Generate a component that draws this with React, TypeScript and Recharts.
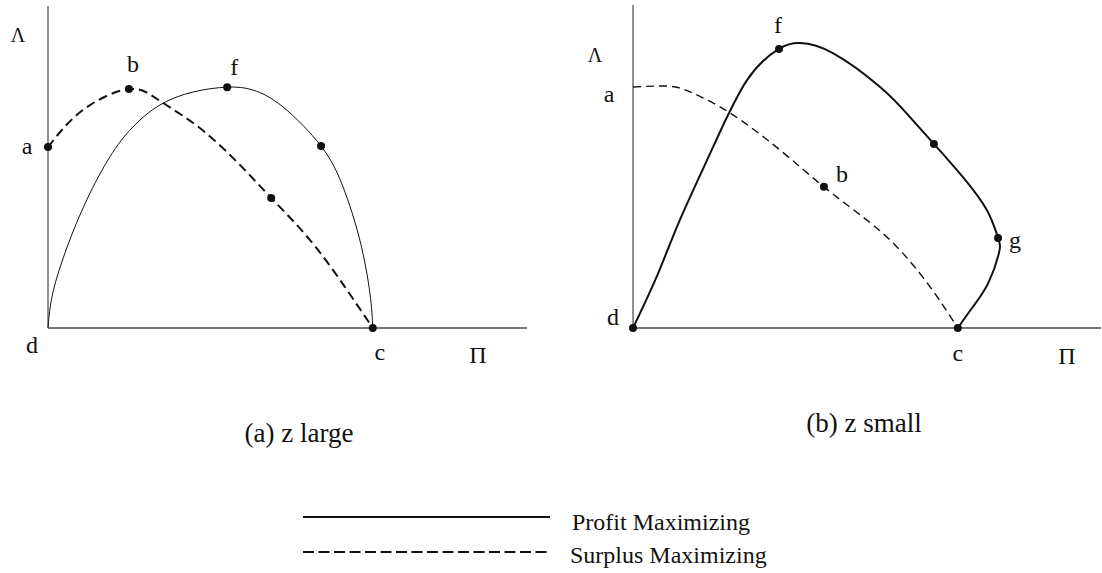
import { ComposedChart, Line, Scatter, XAxis, YAxis } from "recharts";

// curves in abstract units (axis length 10)
const seriesNames = ["Profit Maximizing", "Surplus Maximizing"];
const captions = ["(a) z large", "(b) z small"];
const axisNames = { y: "Λ", x: "Π" };

const largeProfit = [
  { x: 0, y: 0 },
  { x: 0.1, y: 1.09 },
  { x: 0.4, y: 2.52 },
  { x: 0.81, y: 3.98 },
  { x: 1.29, y: 5.31 },
  { x: 1.77, y: 6.24 },
  { x: 2.34, y: 6.93 },
  { x: 3.03, y: 7.33 },
  { x: 3.74, y: 7.48 },
  { x: 4.28, y: 7.39 },
  { x: 4.91, y: 6.86 },
  { x: 5.7, y: 5.65 },
  { x: 6.16, y: 4.38 },
  { x: 6.51, y: 2.73 },
  { x: 6.72, y: 1.09 },
  { x: 6.78, y: 0 },
];

const largeSurplus = [
  { x: 0, y: 5.62 },
  { x: 0.73, y: 6.77 },
  { x: 1.69, y: 7.42 },
  { x: 2.34, y: 7.05 },
  { x: 3.17, y: 6.21 },
  { x: 4.01, y: 5.06 },
  { x: 4.66, y: 4.04 },
  { x: 5.47, y: 2.73 },
  { x: 6.2, y: 1.27 },
  { x: 6.78, y: 0 },
];

const largeMarks = [
  { x: 0, y: 5.62, label: "a", dot: true },
  { x: 1.69, y: 7.42, label: "b", dot: true },
  { x: 3.74, y: 7.48, label: "f", dot: true },
  { x: 5.7, y: 5.65, label: "", dot: true },
  { x: 4.66, y: 4.04, label: "", dot: true },
  { x: 6.78, y: 0, label: "c", dot: true },
  { x: 0, y: 0, label: "d", dot: false },
];

const smallProfit = [
  { x: 0, y: 0 },
  { x: 0.53, y: 1.67 },
  { x: 1.0, y: 3.34 },
  { x: 1.71, y: 5.6 },
  { x: 2.44, y: 7.68 },
  { x: 3.12, y: 8.64 },
  { x: 3.57, y: 8.82 },
  { x: 4.27, y: 8.51 },
  { x: 5.28, y: 7.46 },
  { x: 5.88, y: 6.59 },
  { x: 6.43, y: 5.7 },
  { x: 7.05, y: 4.67 },
  { x: 7.56, y: 3.65 },
  { x: 7.8, y: 2.79 },
  { x: 7.82, y: 2.32 },
  { x: 7.59, y: 1.39 },
  { x: 7.26, y: 0.65 },
  { x: 6.94, y: 0 },
];

const smallSurplus = [
  { x: 0, y: 7.46 },
  { x: 0.73, y: 7.49 },
  { x: 1.22, y: 7.31 },
  { x: 2.07, y: 6.66 },
  { x: 3.14, y: 5.51 },
  { x: 4.08, y: 4.37 },
  { x: 4.91, y: 3.44 },
  { x: 5.64, y: 2.51 },
  { x: 6.35, y: 1.27 },
  { x: 6.94, y: 0 },
];

const smallMarks = [
  { x: 0, y: 0, label: "d", dot: true },
  { x: 3.12, y: 8.64, label: "f", dot: true },
  { x: 6.43, y: 5.7, label: "", dot: true },
  { x: 7.8, y: 2.79, label: "g", dot: true },
  { x: 4.08, y: 4.37, label: "b", dot: true },
  { x: 6.94, y: 0, label: "c", dot: true },
  { x: 0, y: 7.46, label: "a", dot: false },
];

const FONT = "'Liberation Serif', 'Times New Roman', serif";

const labelOffsets: Record<string, Record<string, [number, number]>> = {
  large: { a: [-21, 7], b: [4, -17], f: [7, -12], d: [-16, 25], c: [7, 32] },
  small: { f: [-1, -16], a: [-24, 15], b: [18, -5], g: [17, 10], d: [-20, -3], c: [0, 33] },
};

function markShape(panel: string) {
  return (props: any) => {
    const { cx, cy, payload } = props;
    const off = labelOffsets[panel][payload.label];
    return (
      <g>
        {payload.dot && <circle cx={cx} cy={cy} r={4} fill="#111" />}
        {off && (
          <text x={cx + off[0]} y={cy + off[1]} textAnchor="middle" fontFamily={FONT} fontSize={24} fill="#111">
            {payload.label}
          </text>
        )}
      </g>
    );
  };
}

interface PanelProps {
  panel: string;
  profit: { x: number; y: number }[];
  surplus: { x: number; y: number }[];
  marks: { x: number; y: number; label: string; dot: boolean }[];
  width: number;
  margin: { top: number; right: number; bottom: number; left: number };
  yTitle: [number, number];
  xTitle: [number, number];
  profitWidth: number;
  surplusWidth: number;
  surplusDash: string;
}

function Panel(p: PanelProps) {
  return (
    <ComposedChart width={p.width} height={400} margin={p.margin}>
      <XAxis
        type="number"
        dataKey="x"
        domain={[0, 10]}
        height={30}
        tick={false}
        tickLine={false}
        axisLine={{ stroke: "#777", strokeWidth: 2 }}
        label={{
          content: (lp: any) => (
            <text x={lp.viewBox.x + p.xTitle[0]} y={lp.viewBox.y + p.xTitle[1]} textAnchor="middle" fontFamily={FONT} fontSize={24} fill="#111">
              {axisNames.x}
            </text>
          ),
        }}
      />
      <YAxis
        type="number"
        dataKey="y"
        domain={[0, 10]}
        width={30}
        tick={false}
        tickLine={false}
        axisLine={{ stroke: "#222", strokeWidth: 1 }}
        label={{
          content: (lp: any) => (
            <text x={lp.viewBox.x + p.yTitle[0]} y={lp.viewBox.y + p.yTitle[1]} textAnchor="middle" fontFamily={FONT} fontSize={20} fill="#111">
              {axisNames.y}
            </text>
          ),
        }}
      />
      <Line
        data={p.profit}
        dataKey="y"
        type="natural"
        stroke="#111"
        strokeWidth={p.profitWidth}
        dot={false}
        activeDot={false}
        isAnimationActive={false}
      />
      <Line
        data={p.surplus}
        dataKey="y"
        type="natural"
        stroke="#111"
        strokeWidth={p.surplusWidth}
        strokeDasharray={p.surplusDash}
        dot={false}
        activeDot={false}
        isAnimationActive={false}
      />
      <Scatter data={p.marks} dataKey="y" shape={markShape(p.panel)} isAnimationActive={false} />
    </ComposedChart>
  );
}

export default function App() {
  return (
    <div style={{ position: "absolute", left: 0, top: 0, width: 1102, height: 573, background: "#fff", fontFamily: FONT }}>
      <div style={{ position: "absolute", left: 0, top: 0 }}>
        <Panel
          panel="large"
          profit={largeProfit}
          surplus={largeSurplus}
          marks={largeMarks}
          width={560}
          margin={{ top: 6, right: 33, bottom: 42, left: 18 }}
          yTitle={[0, 36]}
          xTitle={[430, 35]}
          profitWidth={1}
          surplusWidth={2}
          surplusDash="9 5"
        />
      </div>
      <div style={{ position: "absolute", left: 560, top: 0 }}>
        <Panel
          panel="small"
          profit={smallProfit}
          surplus={smallSurplus}
          marks={smallMarks}
          width={542}
          margin={{ top: 5, right: 1, bottom: 42, left: 43 }}
          yTitle={[-8, 57]}
          xTitle={[434, 36]}
          profitWidth={2}
          surplusWidth={1.4}
          surplusDash="8 5"
        />
      </div>
      <svg width={1102} height={573} style={{ position: "absolute", left: 0, top: 0, pointerEvents: "none" }}>
        <text x={299} y={442} textAnchor="middle" fontFamily={FONT} fontSize={27} fill="#111">
          {captions[0]}
        </text>
        <text x={864} y={432} textAnchor="middle" fontFamily={FONT} fontSize={27} fill="#111">
          {captions[1]}
        </text>
        <line x1={303} x2={550} y1={517} y2={517} stroke="#111" strokeWidth={2} />
        <line x1={303} x2={550} y1={552} y2={552} stroke="#111" strokeWidth={2} strokeDasharray="11 4.5" />
        <text x={572} y={530} fontFamily={FONT} fontSize={24} fill="#111">
          {seriesNames[0]}
        </text>
        <text x={570} y={563} fontFamily={FONT} fontSize={24} fill="#111">
          {seriesNames[1]}
        </text>
      </svg>
    </div>
  );
}
